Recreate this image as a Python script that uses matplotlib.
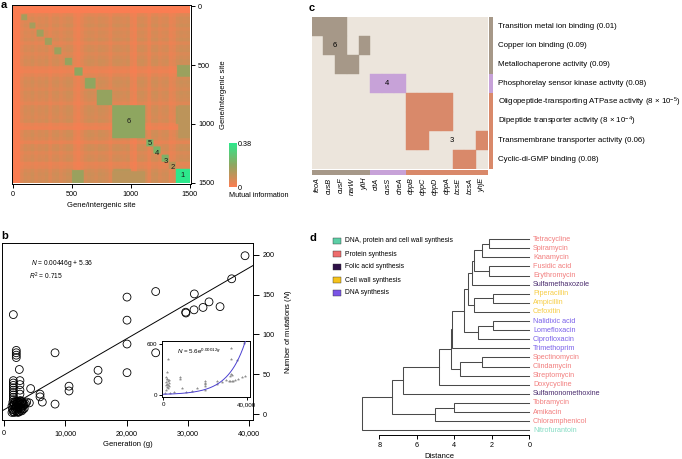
import numpy as np
import matplotlib
matplotlib.use('Agg')
import matplotlib.pyplot as plt
from matplotlib.colors import LinearSegmentedColormap
from matplotlib.patches import Rectangle

plt.rcParams['font.family'] = ['Liberation Sans', 'DejaVu Sans']
plt.rcParams['font.size'] = 5.2
plt.rcParams['mathtext.fontset'] = 'custom'
plt.rcParams['mathtext.rm'] = 'Liberation Sans'
plt.rcParams['mathtext.it'] = 'Liberation Sans:italic'
plt.rcParams['axes.linewidth'] = 0.7
for a in ('xtick', 'ytick'):
    plt.rcParams[a + '.major.width'] = 0.7
    plt.rcParams[a + '.major.size'] = 3
    plt.rcParams[a + '.major.pad'] = 2
    plt.rcParams[a + '.labelsize'] = 5.2

# ---------------- Panel a data ----------------
mi_segment = 30  # sites per profile segment
mi_profile = [0.0, 0.0, 0.03, 0.06, 0.05, 0.07, 0.04, 0.06, 0.05, 0.07,
              0.03, 0.06, 0.07, 0.04, 0.06, 0.08, 0.07, 0.02, 0.01, 0.03,
              0.06, 0.08, 0.07, 0.05, 0.08, 0.07, 0.06, 0.03, 0.07, 0.08,
              0.07, 0.06, 0.08, 0.02, 0.01, 0.07, 0.08, 0.06, 0.02, 0.07,
              0.08, 0.04, 0.06, 0.07, 0.02, 0.03, 0.07, 0.09, 0.08, 0.09]
# diagonal clusters: start site, end site, MI
mi_diag_blocks = [(70, 120, 0.15), (140, 190, 0.15), (200, 260, 0.16), (270, 330, 0.16),
                  (350, 410, 0.17), (440, 500, 0.18), (520, 590, 0.19), (610, 700, 0.19),
                  (715, 840, 0.18), (840, 1120, 0.19), (1130, 1190, 0.23), (1195, 1255, 0.23),
                  (1260, 1320, 0.22), (1325, 1380, 0.12), (1380, 1500, 0.38)]
# off-diagonal clusters: row start, row end, col start, col end, MI (mirrored)
mi_off_blocks = [(500, 600, 1390, 1500, 0.17), (850, 1000, 1380, 1500, 0.12),
                 (1400, 1500, 840, 1120, 0.11)]
mi_cluster_labels = ['6', '5', '4', '3', '2', '1']
mi_label_pos = [(983, 983), (1157, 1165), (1221, 1250), (1292, 1315), (1355, 1372), (1437, 1438)]
mi_max = 0.38

# ---------------- Panel b data ----------------
gen_main = [39350, 37170, 31070, 33470, 32490, 31020, 35270, 29660, 29700, 24760,
            20080, 20080, 20080, 20080, 24760, 15350, 15350, 10610, 10610, 8330,
            8330, 5880, 5880, 6250, 4350, 4130, 1520, 2000, 2000, 2000,
            2000, 2500, 1520, 1520, 1520, 1520, 1520, 1520, 1520, 1520,
            1520, 2600, 2600, 2600, 2600, 1300, 1500, 1700, 1900, 2100,
            2300, 2500, 2700, 2900, 3100, 3300, 1400, 1600, 1800, 2000,
            2200, 2400, 2600, 2800, 3000, 3200, 1300, 1500, 1700, 1900,
            2100, 2300, 2500, 2700, 2900, 3100, 1450, 1650, 1850, 2050,
            2250, 2450, 2650, 2850, 3050, 3300, 3500, 3700]
mut_main = [199, 170, 151, 141, 134, 131, 135, 128, 127, 154,
            147, 118, 88, 52, 77, 55, 42.5, 35, 29, 77,
            12.5, 25, 21.6, 15, 32, 14, 125, 80, 77, 74,
            71, 56, 42, 39, 36, 33, 30, 27, 24, 21,
            18, 42, 37, 30, 25, 2, 3, 2, 4, 3,
            2, 3, 5, 4, 6, 7, 6, 5, 7, 8,
            6, 9, 8, 7, 10, 11, 10, 11, 12, 10,
            13, 11, 14, 12, 15, 13, 15, 14, 16, 15,
            16, 15, 17, 16, 14, 12, 13, 15]
fit_slope = 0.00446
fit_intercept = 5.36

gen_inset = [2040, 1700, 1500, 2000, 1600, 2500, 2200, 1200, 2600, 1800, 2300, 1400, 2700, 2000, 2400, 1300,
             8230, 8230, 9000, 13670, 16000, 19860, 19860, 19860, 19860, 20000, 25770, 25770,
             32270, 32500, 32300, 31800, 32800, 31500, 32200, 32900, 33300, 35350, 36000, 37670,
             38770, 38770, 39000, 5000, 11000, 3000, 1000, 28000, 30000, 34500]
mut_inset = [428, 265, 204, 190, 180, 170, 160, 150, 140, 130, 120, 110, 100, 90, 80, 60,
             204, 188, 82, 40, 82, 163, 143, 122, 102, 61, 163, 130,
             551, 428, 245, 220, 228, 163, 165, 160, 163, 408, 184, 204,
             633, 612, 224, 30, 35, 20, 25, 150, 170, 175]
exp_a = 5.6
exp_b = 0.00012

# ---------------- Panel c data ----------------
genes = ['feoA', 'cusB', 'cusF', 'narW', 'yfiH', 'citA', 'cusS', 'cheA',
         'dppB', 'dppC', 'dppD', 'dppA', 'bcsE', 'bcsA', 'yhjE']
gene_group = [0, 0, 0, 0, 0, 1, 1, 1, 2, 2, 2, 2, 2, 2, 2]
go_terms = ['Transition metal ion binding (0.01)',
            'Copper ion binding (0.09)',
            'Metallochaperone activity (0.09)',
            'Phosphorelay sensor kinase activity (0.08)',
            'Oligopeptide-transporting ATPase activity (8 × 10$^{-5}$)',
            'Dipeptide transporter activity (8 × 10$^{-4}$)',
            'Transmembrane transporter activity (0.06)',
            'Cyclic-di-GMP binding (0.08)']
go_group = [0, 0, 0, 1, 2, 2, 2, 2]
go_members = [[0, 1, 2], [1, 2, 4], [2, 3], [5, 6, 7],
              [8, 9, 10, 11], [8, 9, 10, 11], [8, 9, 14], [12, 13]]
group_colors = ['#a69888', '#c7a2d8', '#d9896a']
cluster_text = ['6', '4', '3']
cluster_text_pos = [(2.0, 1.5), (6.4, 3.5), (11.9, 6.5)]

# ---------------- Panel d data ----------------
drugs = ['Tetracycline', 'Spiramycin', 'Kanamycin', 'Fusidic acid', 'Erythromycin',
         'Sulfamethaxozole', 'Piperacillin', 'Ampicillin', 'Cefoxitin', 'Nalidixic acid',
         'Lomefloxacin', 'Ciprofloxacin', 'Trimethoprim', 'Spectinomycin', 'Clindamycin',
         'Streptomycin', 'Doxycycline', 'Sulfamonomethoxine', 'Tobramycin', 'Amikacin',
         'Chloramphenicol', 'Nitrofurantoin']
drug_class = [1, 1, 1, 1, 1, 2, 3, 3, 3, 4, 4, 4, 4, 1, 1, 1, 1, 2, 1, 1, 1, 0]
class_names = ['DNA, protein and cell wall synthesis', 'Protein synthesis',
               'Folic acid synthesis', 'Cell wall synthesis', 'DNA synthesis']
class_colors = ['#5ccfa6', '#ee6d6d', '#2e1048', '#f5c21b', '#7a55e6']
label_colors = ['#86dcc4', '#f27f7f', '#4a2c6e', '#f7cd45', '#7b62ea']
# merges: (node a, node b, distance); new nodes numbered from len(drugs)
merges = [(0, 1, 2.15), (22, 2, 2.5), (3, 4, 2.15), (23, 24, 2.95), (25, 5, 3.08),
          (6, 7, 1.92), (27, 8, 2.95), (26, 28, 3.25), (9, 10, 1.92), (30, 11, 2.72),
          (29, 31, 3.47), (32, 12, 4.1), (13, 14, 2.54), (34, 15, 3.7), (33, 35, 4.2),
          (36, 16, 4.8), (37, 17, 6.76), (18, 19, 4.0), (39, 20, 5.03), (38, 40, 7.3),
          (41, 21, 8.9)]

# ================= figure =================
W, H = 682, 459
fig = plt.figure(figsize=(W / 100, H / 100), dpi=100)


def px_axes(x0, y0, x1, y1):
    return fig.add_axes([x0 / W, 1 - y1 / H, (x1 - x0) / W, (y1 - y0) / H])


# ---------- Panel a ----------
res = 10
prof = np.repeat(np.array(mi_profile), mi_segment // res)
mat = np.sqrt(np.outer(prof, prof))
for r0, r1, c0, c1, v in mi_off_blocks:
    mat[r0 // res:r1 // res, c0 // res:c1 // res] = v
    mat[c0 // res:c1 // res, r0 // res:r1 // res] = v
for s, e, v in mi_diag_blocks:
    mat[s // res:e // res, s // res:e // res] = v

cmap = LinearSegmentedColormap.from_list('mi', ['#fb7d52', '#8fa660', '#2de88c'])
ax_a = px_axes(12, 5, 191, 184)
im = ax_a.imshow(mat, cmap=cmap, vmin=0, vmax=mi_max, extent=(0, 1500, 1500, 0),
                 aspect='auto', interpolation='bilinear')
ax_a.set_xlim(-10, 1510)
ax_a.set_ylim(1510, -10)
ax_a.set_xticks([0, 500, 1000, 1500])
ax_a.set_yticks([0, 500, 1000, 1500])
ax_a.yaxis.tick_right()
ax_a.yaxis.set_label_position('right')
ax_a.set_xlabel('Gene/intergenic site', fontsize=5.5, labelpad=3)
ax_a.set_ylabel('Gene/intergenic site', fontsize=5.5, labelpad=4)
for lab, (x, y) in zip(mi_cluster_labels, mi_label_pos):
    ax_a.text(x, y, lab, fontsize=5.5, ha='center', va='center', color='#1a1a1a')

cax = px_axes(229, 143, 237, 187)
cb = fig.colorbar(im, cax=cax)
cb.set_ticks([])
cb.outline.set_visible(False)

# ---------- Panel c ----------
ax_c = px_axes(311.7, 17, 488, 169)
ax_c.set_xlim(0, 15)
ax_c.set_ylim(8, 0)
ax_c.add_patch(Rectangle((0, 0), 15, 8, facecolor='#ece5dc', edgecolor='none'))
for r, cols in enumerate(go_members):
    col = group_colors[go_group[r]]
    for cidx in cols:
        ax_c.add_patch(Rectangle((cidx, r), 1, 1, facecolor=col, edgecolor=col, lw=0.3))
for r, g in enumerate(go_group):
    ax_c.add_patch(Rectangle((15.08, r), 0.32, 1, facecolor=group_colors[g],
                             edgecolor='none', clip_on=False))
    ax_c.text(15.85, r + 0.5, go_terms[r], fontsize=5.7, ha='left', va='center')
for cidx, g in enumerate(gene_group):
    ax_c.add_patch(Rectangle((cidx, 8.05), 1, 0.24, facecolor=group_colors[g],
                             edgecolor='none', clip_on=False))
    ax_c.text(cidx + 0.5, 8.45, genes[cidx], fontsize=5.2, style='italic',
              rotation=90, ha='center', va='top')
for t, (x, y) in zip(cluster_text, cluster_text_pos):
    ax_c.text(x, y, t, fontsize=5.5, ha='center', va='center')
ax_c.axis('off')

# ---------- Panel b ----------
ax_b = px_axes(2, 243, 253, 420)
ax_b.scatter(gen_main, mut_main, s=32, facecolors='none', edgecolors='black', linewidths=0.6,
             zorder=3)
gx = np.array([-330, 40650])
ax_b.plot(gx, fit_slope * gx + fit_intercept, color='black', lw=0.7, zorder=2)
ax_b.set_xlim(-330, 40650)
ax_b.set_ylim(-7.5, 215)
ax_b.set_xticks([0, 10000, 20000, 30000, 40000])
ax_b.set_xticklabels(['0', '10,000', '20,000', '30,000', '40,000'])
ax_b.set_yticks([0, 50, 100, 150, 200])
ax_b.yaxis.tick_right()
ax_b.yaxis.set_label_position('right')
ax_b.tick_params(length=4, pad=3)
ax_b.set_xlabel('Generation (g)', fontsize=5.5, labelpad=3)
ax_b.set_ylabel('Number of mutations ($N$)', fontsize=5.5, labelpad=6)
ax_b.text(0.115, 0.885, '$N$ = 0.00446g + 5.36', transform=ax_b.transAxes, fontsize=4.8,
          ha='left', va='center')
ax_b.text(0.108, 0.81, '$R^2$ = 0.715', transform=ax_b.transAxes, fontsize=4.8,
          ha='left', va='center')

ax_in = px_axes(162, 341, 250, 397)
ax_in.set_facecolor('white')
ax_in.scatter(gen_inset, mut_inset, s=3, marker='*', color='#8a8a8a', linewidths=0.2, zorder=2)
cg = np.linspace(0, 40000, 200)
ax_in.plot(cg, exp_a * np.exp(exp_b * cg), color='#4b40d0', lw=0.7, zorder=3)
ax_in.set_xlim(-620, 41600)
ax_in.set_ylim(-27, 635)
ax_in.set_xticks([0, 40000])
ax_in.set_xticklabels(['0', '40,000'])
ax_in.set_yticks([0, 600])
ax_in.tick_params(labelsize=4.5, length=2, pad=1.5)
ax_in.text(0.17, 0.82, '$N$ = 5.6e$^{0.00012g}$', transform=ax_in.transAxes, fontsize=4.5,
           ha='left', va='center')

# ---------- Panel d ----------
ax_d = px_axes(350, 235, 529.3, 435)
ax_d.set_xlim((529.3 - 350) / 18.75, 0)
ax_d.set_ylim(21.52, -0.45)
pos = {i: (0.0, float(i)) for i in range(len(drugs))}
nid = len(drugs)
for a, b, d in merges:
    xa, ya = pos[a]
    xb, yb = pos[b]
    ax_d.plot([xa, d, d, xb], [ya, ya, yb, yb], color='#4a4a4a', lw=0.75,
              solid_joinstyle='miter', clip_on=False)
    pos[nid] = (d, (ya + yb) / 2)
    nid += 1
for i, name in enumerate(drugs):
    ax_d.text(-0.2, i, name, color=label_colors[drug_class[i]], fontsize=5.2,
              ha='left', va='center', clip_on=False)
for s in ('top', 'right', 'left'):
    ax_d.spines[s].set_visible(False)
ax_d.spines['bottom'].set_bounds(8, 0)
ax_d.set_yticks([])
ax_d.set_xticks([8, 6, 4, 2, 0])
ax_d.tick_params(axis='x', length=3, labelsize=5.2)
ax_d.set_xlabel('Distance', fontsize=5.5, labelpad=3)

# ---------- overlay texts ----------
ov = fig.add_axes([0, 0, 1, 1])
ov.set_xlim(0, W)
ov.set_ylim(H, 0)
ov.axis('off')
for lab, (x, y) in zip(['a', 'b', 'c', 'd'], [(1, 5), (1, 236), (309, 8), (309, 238)]):
    ov.text(x, y, lab, fontsize=8, fontweight='bold', ha='left', va='center')
ov.text(238, 144, '0.38', fontsize=5.2, ha='left', va='center')
ov.text(238, 188.5, '0', fontsize=5.2, ha='left', va='center')
ov.text(229, 195.5, 'Mutual information', fontsize=5.2, ha='left', va='center')
for i, (nm, c) in enumerate(zip(class_names, class_colors)):
    y = 241 + i * 13
    ov.add_patch(Rectangle((333, y - 3.2), 8, 6.4, facecolor=c, edgecolor='#333333', lw=0.3))
    ov.text(345, y, nm, fontsize=4.9, ha='left', va='center')

fig.savefig('out.png', dpi=100)
